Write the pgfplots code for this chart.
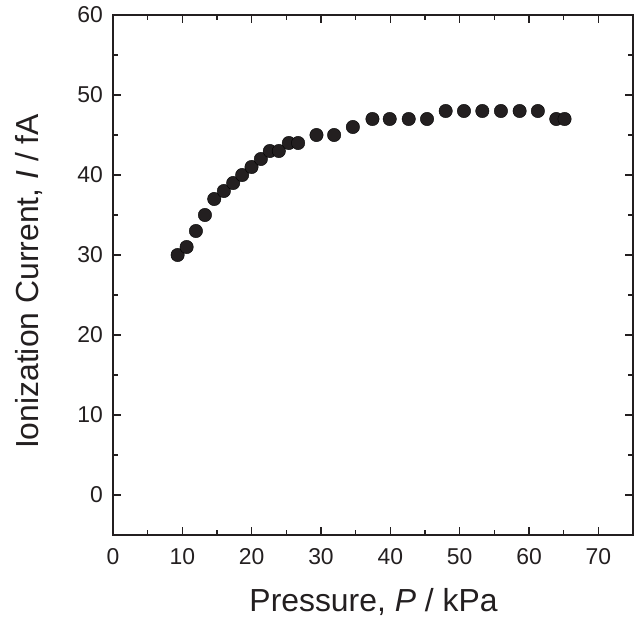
\documentclass[border=0pt]{standalone}
\usepackage{fontspec}
\setmainfont{Liberation Sans}
\usepackage{pgfplots}
\pgfplotsset{compat=1.18}
\definecolor{dot}{HTML}{231F20}
\begin{document}
\begin{tikzpicture}
\begin{axis}[name=ax, scale only axis, width=520bp, height=520bp,
  xmin=0, xmax=75, ymin=-5, ymax=60,
  xtick={0,10,...,70}, ytick={0,10,...,60},
  minor x tick num=1, minor y tick num=1,
  tick align=inside, major tick length=8bp, minor tick length=5bp,
  axis line style={line width=1.3bp, draw=dot},
  every tick/.style={line width=1.2bp, draw=dot},
  /pgf/number format/assume math mode=true,
  tick label style={font=\fontsize{23}{27}\selectfont, inner sep=0pt, text=dot},
  xticklabel style={anchor=north, yshift=-13bp},
  yticklabel style={anchor=east, xshift=-10bp},
  label style={font=\fontsize{32}{38}\selectfont, text=dot, inner sep=0pt},
  xlabel={Pressure, \textit{P} / kPa},
  ylabel={Ionization Current, \textit{I} / fA},
  xlabel style={at={(axis description cs:0.501,-0.148)}, anchor=base},
  ylabel style={at={(axis description cs:-0.1442,0.4875)}, anchor=base},
]
\addplot[only marks, mark=*, mark size=6.7bp, mark options={draw=none, fill=dot}] coordinates {
(9.32,30) (10.62,31) (11.96,33) (13.26,35) (14.6,37) (15.99,38) (17.33,39)
(18.63,40) (19.98,41) (21.33,42) (22.62,43) (23.92,43) (25.36,44) (26.7,44)
(29.35,45) (31.89,45) (34.6,46) (37.42,47) (39.91,47) (42.65,47) (45.29,47)
(47.98,48) (50.62,48) (53.27,48) (55.95,48) (58.65,48) (61.28,48)
(63.93,47) (65.13,47)
};
\end{axis}
\pgfresetboundingbox
\path ([xshift=-113bp,yshift=-86bp]ax.south west) rectangle ([xshift=6bp,yshift=15bp]ax.north east);
\end{tikzpicture}
\end{document}
